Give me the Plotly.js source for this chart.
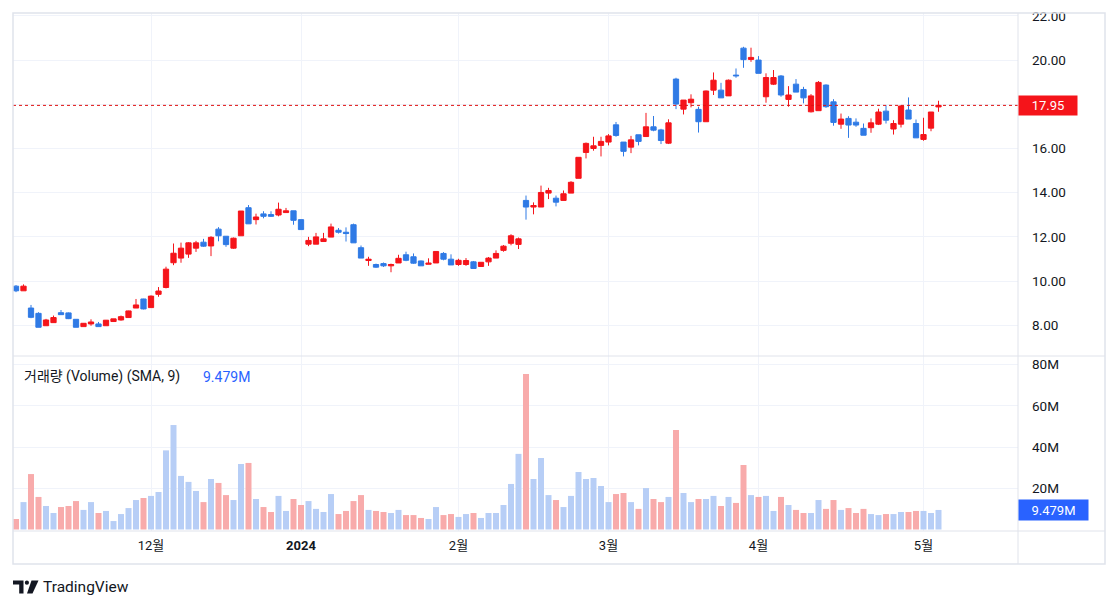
<!DOCTYPE html>
<html><head><meta charset="utf-8">
<script src="https://cdn.plot.ly/plotly-3.0.1.min.js"></script>
<style>html,body{margin:0;padding:0;background:#fff;}#chart{width:1118px;height:609px;}</style>
</head><body><div id="chart"></div>
<script>
const dates = [
"2023-11-06","2023-11-07","2023-11-08","2023-11-09","2023-11-10","2023-11-13","2023-11-14","2023-11-15","2023-11-16","2023-11-17","2023-11-20","2023-11-21","2023-11-22","2023-11-24","2023-11-27","2023-11-28","2023-11-29","2023-11-30",
"2023-12-01","2023-12-04","2023-12-05","2023-12-06","2023-12-07","2023-12-08","2023-12-11","2023-12-12","2023-12-13","2023-12-14","2023-12-15","2023-12-18","2023-12-19","2023-12-20","2023-12-21","2023-12-22","2023-12-26","2023-12-27","2023-12-28","2023-12-29",
"2024-01-02","2024-01-03","2024-01-04","2024-01-05","2024-01-08","2024-01-09","2024-01-10","2024-01-11","2024-01-12","2024-01-16","2024-01-17","2024-01-18","2024-01-19","2024-01-22","2024-01-23","2024-01-24","2024-01-25","2024-01-26","2024-01-29","2024-01-30","2024-01-31",
"2024-02-01","2024-02-02","2024-02-05","2024-02-06","2024-02-07","2024-02-08","2024-02-09","2024-02-12","2024-02-13","2024-02-14","2024-02-15","2024-02-16","2024-02-20","2024-02-21","2024-02-22","2024-02-23","2024-02-26","2024-02-27","2024-02-28","2024-02-29",
"2024-03-01","2024-03-04","2024-03-05","2024-03-06","2024-03-07","2024-03-08","2024-03-11","2024-03-12","2024-03-13","2024-03-14","2024-03-15","2024-03-18","2024-03-19","2024-03-20","2024-03-21","2024-03-22","2024-03-25","2024-03-26","2024-03-27","2024-03-28",
"2024-04-01","2024-04-02","2024-04-03","2024-04-04","2024-04-05","2024-04-08","2024-04-09","2024-04-10","2024-04-11","2024-04-12","2024-04-15","2024-04-16","2024-04-17","2024-04-18","2024-04-19","2024-04-22","2024-04-23","2024-04-24","2024-04-25","2024-04-26","2024-04-29","2024-04-30",
"2024-05-01","2024-05-02","2024-05-03"];

const open = [9.77,9.56,8.78,8.54,7.98,8.12,8.57,8.56,8.27,7.94,8.06,8.06,7.98,8.17,8.24,8.35,8.78,9.19,
8.80,9.40,9.71,10.83,11.04,11.22,11.49,11.76,11.59,12.35,12.03,11.49,12.05,13.32,12.78,13.04,13.01,12.99,13.10,13.18,
12.78,11.67,11.67,11.79,11.99,12.30,12.21,12.55,11.51,10.93,10.75,10.79,10.69,10.82,11.19,11.10,10.91,10.76,10.82,11.25,10.99,
10.75,10.75,10.87,10.66,10.87,11.04,11.39,11.71,11.66,13.65,13.35,13.35,13.98,13.75,13.65,13.98,14.65,15.82,16.00,16.14,
16.29,17.07,16.29,16.06,16.62,16.54,16.98,16.84,16.24,19.14,17.78,18.07,17.77,17.21,18.64,18.64,18.38,19.32,20.54,20.03,
20.00,18.34,18.91,19.28,18.22,18.91,18.67,17.66,17.71,18.87,18.11,17.10,17.36,17.19,16.91,16.94,17.10,17.69,16.88,17.10,17.74,17.13,
16.41,16.92,17.88];
const high = [9.82,9.85,8.92,8.59,8.29,8.44,8.69,8.58,8.28,8.10,8.27,8.15,8.24,8.29,8.44,8.66,9.19,9.20,
9.35,9.73,10.65,11.70,11.74,11.76,11.82,11.91,12.03,12.44,12.03,11.97,13.17,13.44,13.05,13.16,13.16,13.55,13.31,13.18,
12.78,12.00,12.18,12.18,12.60,12.40,12.43,12.60,11.61,11.10,10.79,10.84,10.79,11.19,11.33,11.25,10.93,11.03,11.34,11.31,11.21,
11.01,11.04,10.91,10.85,11.09,11.39,11.63,12.12,11.97,13.87,13.56,14.32,14.22,13.87,14.10,14.52,15.60,16.27,16.53,16.53,
16.65,17.20,16.29,16.57,16.62,17.61,17.47,16.89,17.32,19.20,18.19,18.45,17.89,18.62,19.44,18.97,19.12,19.62,20.60,20.56,
20.18,19.40,19.55,19.32,18.82,19.14,18.79,18.46,19.05,18.90,18.23,17.58,17.46,17.36,17.13,17.36,17.80,17.96,17.28,17.96,18.31,17.31,
17.39,17.65,18.16];
const low = [9.50,9.56,8.32,7.91,7.98,8.12,8.48,8.28,7.91,7.94,7.98,7.94,7.98,8.17,8.21,8.35,8.78,8.72,
8.80,9.29,9.67,10.72,10.83,11.05,11.32,11.55,11.13,11.80,11.55,11.46,12.05,12.59,12.56,12.84,12.90,12.93,13.10,12.55,
12.33,11.58,11.67,11.79,11.99,12.15,11.79,11.73,11.04,10.69,10.60,10.64,10.40,10.82,10.90,10.78,10.69,10.76,10.82,10.94,10.73,
10.69,10.69,10.57,10.64,10.69,11.04,11.33,11.62,11.45,12.78,13.02,13.35,13.71,13.38,13.65,13.98,14.65,15.55,15.90,15.64,
16.14,16.53,15.64,15.79,16.14,16.54,16.78,16.20,16.20,17.78,17.54,17.86,16.72,17.21,18.42,18.29,18.38,19.20,19.65,19.92,
19.40,18.07,18.87,18.34,17.89,18.55,18.04,17.63,17.71,17.84,17.03,16.89,16.48,16.98,16.60,16.71,17.06,17.13,16.63,16.95,17.33,16.48,
16.35,16.78,17.66];
const close = [9.56,9.77,8.36,7.91,8.24,8.35,8.48,8.30,7.91,8.09,8.15,7.94,8.23,8.29,8.39,8.65,8.92,8.74,
9.32,9.55,10.54,11.26,11.49,11.73,11.73,11.58,11.98,12.05,11.65,11.94,13.17,12.59,12.90,12.93,12.93,13.25,13.18,12.75,
12.33,11.84,12.00,11.91,12.45,12.21,12.15,11.73,11.04,10.99,10.63,10.69,10.75,11.03,10.94,10.81,10.69,10.81,11.34,10.99,10.73,
10.94,10.93,10.57,10.85,11.04,11.25,11.58,12.05,11.91,13.35,13.42,14.01,14.10,13.57,13.95,14.47,15.60,16.23,16.12,16.32,
16.57,16.59,15.87,16.39,16.32,16.98,16.83,16.36,17.16,18.01,18.19,18.23,17.21,18.60,19.09,18.29,19.09,19.29,20.02,20.12,
19.40,19.21,19.21,18.42,18.42,18.55,18.29,18.38,18.99,17.89,17.18,17.33,17.06,17.06,16.60,17.16,17.65,17.28,17.13,17.92,17.33,16.48,
16.63,17.65,17.95];
// volume in millions
const volume = [5.1,13.3,26.9,15.8,11.4,8.0,10.9,11.4,13.8,9.5,13.3,8.0,9.0,4.1,7.5,10.4,14.3,15.3,
16.3,18.2,38.4,50.7,26.0,23.1,18.7,13.3,24.5,22.6,16.7,14.3,31.8,32.3,14.8,10.9,8.5,16.3,9.0,14.8,
11.9,13.8,10.0,8.5,17.2,7.5,9.0,13.8,16.7,9.5,9.0,8.5,8.0,9.5,7.0,7.0,5.6,5.1,10.9,7.0,7.5,
6.1,7.5,8.0,5.6,8.0,8.0,11.9,22.1,36.7,75.5,24.5,34.7,16.7,14.3,10.9,16.3,27.9,24.5,25.0,21.1,
13.3,17.2,17.7,13.3,10.0,20.1,14.8,13.3,15.8,48.3,17.7,13.3,14.8,14.8,16.3,11.4,15.8,12.9,31.3,16.7,
15.8,16.3,9.0,15.8,11.9,9.5,8.0,8.0,14.3,10.0,14.3,9.5,10.4,8.0,10.0,7.5,7.0,7.5,7.5,8.5,8.5,9.0,
9.0,8.0,9.479];

const priceTicks = [8,10,12,14,16,18,20,22];
const priceTickText = ["8.00","10.00","12.00","14.00","16.00","18.00","20.00","22.00"];
const volTicks = [20,40,60,80];
const volTickText = ["20M","40M","60M","80M"];
const monthTickDates = ["2023-12-01","2024-01-02","2024-02-01","2024-03-01","2024-04-01","2024-05-01"];
const monthTickText = ["12월","<b>2024</b>","2월","3월","4월","5월"];
const lastPrice = 17.95;
const lastVolumeText = "9.479M";
const lastVolume = 9.479;

const RED = "#f5141a", BLUE = "#2f7ae5", VRED = "#f8abab", VBLUE = "#b7cef6";
const FRAME = "#e0e3eb", GRID = "#f0f3fa", TXT = "#131722";
const FONT = "Roboto, 'Noto Sans CJK KR', sans-serif";

// pixel -> paper helpers (plot area: x 13..1018, y 13..531)
const px = x => (x - 13) / 1005;
const py = y => (531 - y) / 518;

const volColors = open.map((o, i) => close[i] < o ? VRED : VBLUE);

const traces = [
  {type: "candlestick", x: dates, open: open, high: high, low: low, close: close,
   xaxis: "x", yaxis: "y", whiskerwidth: 0,
   increasing: {line: {color: RED, width: 1}, fillcolor: RED},
   decreasing: {line: {color: BLUE, width: 1}, fillcolor: BLUE},
   hoverinfo: "skip"},
  {type: "bar", x: dates, y: volume, xaxis: "x", yaxis: "y2",
   marker: {color: volColors, line: {width: 0}}, width: 0.8, hoverinfo: "skip"}
];

const shapes = [
  {type: "line", xref: "paper", yref: "y", x0: 0, x1: 1, y0: lastPrice, y1: lastPrice,
   line: {color: "#e01010", width: 1, dash: "dot"}, layer: "above"},
  // cover label overflow above top frame
  {type: "rect", xref: "paper", yref: "paper", x0: px(1014), x1: px(1118), y0: py(12), y1: py(0),
   fillcolor: "#ffffff", line: {width: 0}, layer: "above"},
  // frame
  {type: "rect", xref: "paper", yref: "paper", x0: px(13), x1: px(1105), y0: py(564), y1: py(13),
   line: {color: FRAME, width: 1.5}, layer: "above"},
  {type: "line", xref: "paper", yref: "paper", x0: px(1018), x1: px(1018), y0: py(564), y1: py(13),
   line: {color: FRAME, width: 1}, layer: "above"},
  {type: "line", xref: "paper", yref: "paper", x0: px(13), x1: px(1105), y0: py(356), y1: py(356),
   line: {color: FRAME, width: 1}, layer: "above"},
  {type: "line", xref: "paper", yref: "paper", x0: px(13), x1: px(1105), y0: py(531), y1: py(531),
   line: {color: FRAME, width: 1}, layer: "above"},
  // TradingView logo
  {type: "path", xref: "paper", yref: "paper", fillcolor: TXT, line: {width: 0},
   path: `M${px(13)},${py(580.5)} L${px(23.5)},${py(580.5)} L${px(23.5)},${py(593.5)} L${px(19.2)},${py(593.5)} L${px(19.2)},${py(584.5)} L${px(13)},${py(584.5)} Z`},
  {type: "circle", xref: "paper", yref: "paper", fillcolor: TXT, line: {width: 0},
   x0: px(24.8), x1: px(29), y0: py(584.8), y1: py(580.6)},
  {type: "path", xref: "paper", yref: "paper", fillcolor: TXT, line: {width: 0},
   path: `M${px(31.5)},${py(580.5)} L${px(38.5)},${py(580.5)} L${px(32.5)},${py(593.5)} L${px(27)},${py(593.5)} Z`}
];

const annotations = [
  {xref: "paper", yref: "y", x: 1, y: lastPrice, xanchor: "left", yanchor: "middle", showarrow: false,
   text: lastPrice.toFixed(2), bgcolor: RED, font: {color: "#ffffff", size: 13, family: FONT},
   width: 56, height: 17, borderpad: 1},
  {xref: "paper", yref: "y2", x: 1, y: lastVolume, xanchor: "left", yanchor: "middle", showarrow: false,
   text: lastVolumeText, bgcolor: "#2962ff", font: {color: "#ffffff", size: 13, family: FONT},
   width: 67, height: 18, borderpad: 1},
  {xref: "paper", yref: "paper", x: px(22), y: py(377), xanchor: "left", yanchor: "middle", showarrow: false,
   text: '거래량 (Volume) (SMA, 9)', font: {color: TXT, size: 14, family: FONT}},
  {xref: "paper", yref: "paper", x: px(201), y: py(377), xanchor: "left", yanchor: "middle", showarrow: false,
   text: lastVolumeText, font: {color: "#2962ff", size: 14, family: FONT}},
  {xref: "paper", yref: "paper", x: px(41), y: py(587), xanchor: "left", yanchor: "middle", showarrow: false,
   text: "TradingView", font: {color: TXT, size: 15.5, family: FONT}}
];

const layout = {
  width: 1118, height: 609,
  margin: {l: 13, r: 100, t: 13, b: 78, pad: 0},
  paper_bgcolor: "#ffffff", plot_bgcolor: "#ffffff",
  showlegend: false, boxgap: 0.3, boxgroupgap: 0,
  font: {family: FONT, color: TXT, size: 13},
  xaxis: {type: "category", range: [-0.4, 133.6], anchor: "y2",
    tickvals: monthTickDates, ticktext: monthTickText, tickangle: 0,
    showgrid: true, gridcolor: GRID, gridwidth: 1, ticks: "", ticklabelstandoff: 5,
    showline: false, zeroline: false, rangeslider: {visible: false}, fixedrange: true,
    tickfont: {size: 13, color: TXT, family: FONT}},
  yaxis: {domain: [py(356), 1], side: "right", anchor: "x", range: [6.61, 22.13],
    tickvals: priceTicks, ticktext: priceTickText, showgrid: true, gridcolor: GRID,
    ticks: "", ticklabelstandoff: 13, zeroline: false, showline: false, fixedrange: true,
    tickfont: {size: 13.5, color: TXT, family: FONT}},
  yaxis2: {domain: [0, py(356)], side: "right", anchor: "x", range: [-0.73, 84.2],
    tickvals: volTicks, ticktext: volTickText, showgrid: true, gridcolor: GRID,
    ticks: "", ticklabelstandoff: 13, zeroline: false, showline: false, fixedrange: true,
    tickfont: {size: 13.5, color: TXT, family: FONT}},
  shapes: shapes, annotations: annotations
};

Plotly.newPlot("chart", traces, layout, {staticPlot: true, displayModeBar: false});
</script></body></html>
